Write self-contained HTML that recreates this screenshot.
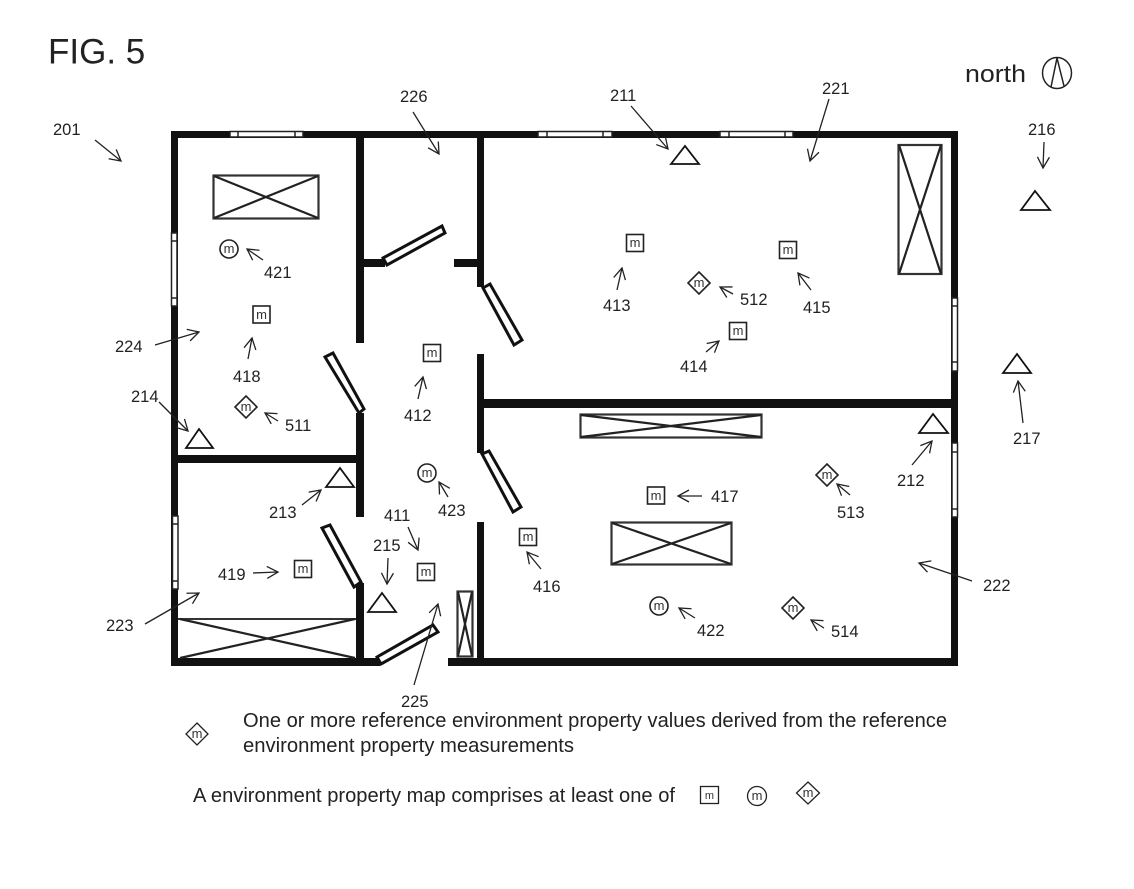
<!DOCTYPE html>
<html>
<head>
<meta charset="utf-8">
<style>
html,body{margin:0;padding:0;background:#fff;}
svg{display:block;}
text{font-family:"Liberation Sans",sans-serif;fill:#222;}
.n{font-size:16.5px;}
.m{font-size:13px;text-anchor:middle;fill:#333;}
.w{fill:#111;stroke:none;}
.win{fill:#fff;stroke:#222;stroke-width:1.5;}
.door{fill:#fff;stroke:#111;stroke-width:3;}
.bed{fill:#fff;stroke:#333;stroke-width:2.2;}
.x{stroke:#222;stroke-width:2.2;fill:none;}
.tri{fill:#fff;stroke:#111;stroke-width:1.8;}
.s{fill:#fff;stroke:#222;stroke-width:1.6;}
.a{stroke:#222;stroke-width:1.3;fill:none;marker-end:url(#ah);}
</style>
</head>
<body>
<svg width="1134" height="889" viewBox="0 0 1134 889" xmlns="http://www.w3.org/2000/svg">
<defs>
<marker id="ah" markerUnits="userSpaceOnUse" markerWidth="16" markerHeight="16" refX="12" refY="8" orient="auto">
<path d="M1,2 L12,8 L1,14" fill="none" stroke="#222" stroke-width="1.3"/>
</marker>
</defs>
<rect width="1134" height="889" fill="#fff"/>

<!-- walls -->
<rect class="w" x="171" y="131" width="787" height="7"/>
<rect class="w" x="171" y="131" width="7" height="535"/>
<rect class="w" x="951" y="131" width="7" height="535"/>
<rect class="w" x="171" y="658" width="209" height="8"/>
<rect class="w" x="448" y="658" width="510" height="8"/>
<rect class="w" x="356" y="138" width="8" height="205"/>
<rect class="w" x="356" y="413" width="8" height="104"/>
<rect class="w" x="356" y="583" width="8" height="75"/>
<rect class="w" x="477" y="138" width="7" height="149"/>
<rect class="w" x="477" y="354" width="7" height="99"/>
<rect class="w" x="477" y="522" width="7" height="136"/>
<rect class="w" x="364" y="259" width="21" height="8"/>
<rect class="w" x="454" y="259" width="23" height="8"/>
<rect class="w" x="178" y="455" width="178" height="8"/>
<rect class="w" x="484" y="399" width="467" height="9"/>

<!-- windows -->
<rect class="win" x="230" y="131.500" width="73" height="5.500"/><path class="win" d="M238,131.500V137M295,131.500V137"/>
<rect class="win" x="538" y="131.500" width="74" height="5.500"/><path class="win" d="M547,131.500V137M603,131.500V137"/>
<rect class="win" x="720" y="131.500" width="73" height="5.500"/><path class="win" d="M729,131.500V137M785,131.500V137"/>
<rect class="win" x="171.500" y="233" width="5.500" height="73"/><path class="win" d="M171.500,241H177M171.500,298H177"/>
<rect class="win" x="172.500" y="516" width="5.500" height="73"/><path class="win" d="M172.500,524H178M172.500,581H178"/>
<rect class="win" x="952" y="298" width="5.500" height="73"/><path class="win" d="M952,306H957.500M952,362H957.500"/>
<rect class="win" x="952" y="443" width="5.500" height="74"/><path class="win" d="M952,452H957.500M952,509H957.500"/>

<!-- doors -->
<polygon class="door" points="383,258 442,226 445,233 387,265"/>
<polygon class="door" points="325,357 333,353 364,409 359,413"/>
<polygon class="door" points="483,288 490,284 522,340 514,345"/>
<polygon class="door" points="482,454 489,451 521,507 513,512"/>
<polygon class="door" points="322,528 330,525 361,582 354,587"/>
<polygon class="door" points="377,657 433,625 438,632 381,664"/>

<!-- furniture -->
<rect class="bed" x="213.500" y="175.500" width="105" height="43"/><path class="x" d="M214,176L318,218M318,176L214,218"/>
<rect class="bed" x="898.500" y="145" width="43" height="129"/><path class="x" d="M899,145L941,274M941,145L899,274"/>
<rect class="bed" x="580.500" y="414.500" width="181" height="23"/><path class="x" d="M581,415L761,437M761,415L581,437"/>
<rect class="bed" x="611.500" y="522.500" width="120" height="42"/><path class="x" d="M612,523L731,564M731,523L612,564"/>
<path d="M178,619H356" stroke="#333" stroke-width="2" fill="none"/><path class="x" d="M180,619L355,658M355,619L180,658"/>
<rect class="bed" x="457.500" y="591.500" width="15" height="65"/><path class="x" d="M458,592L472,656M472,592L458,656"/>

<!-- triangles -->
<polygon class="tri" points="671,164 685,146 699,164"/>
<polygon class="tri" points="1021,210 1035,191 1050,210"/>
<polygon class="tri" points="1003,373 1017,354 1031,373"/>
<polygon class="tri" points="919,433 933,414 948,433"/>
<polygon class="tri" points="186,448 199,429 213,448"/>
<polygon class="tri" points="326,487 340,468 354,487"/>
<polygon class="tri" points="368,612 382,593 396,612"/>

<!-- square sensors -->
<rect class="s" x="253" y="306" width="17" height="17"/><text class="m" x="261.500" y="319">m</text>
<rect class="s" x="423.500" y="344.500" width="17" height="17"/><text class="m" x="432" y="357">m</text>
<rect class="s" x="417.500" y="563.500" width="17" height="17"/><text class="m" x="426" y="576">m</text>
<rect class="s" x="294.500" y="560.500" width="17" height="17"/><text class="m" x="303" y="573">m</text>
<rect class="s" x="626.500" y="234.500" width="17" height="17"/><text class="m" x="635" y="247">m</text>
<rect class="s" x="779.500" y="241.500" width="17" height="17"/><text class="m" x="788" y="254">m</text>
<rect class="s" x="729.500" y="322.500" width="17" height="17"/><text class="m" x="738" y="335">m</text>
<rect class="s" x="647.500" y="487" width="17" height="17"/><text class="m" x="656" y="500">m</text>
<rect class="s" x="519.500" y="528.500" width="17" height="17"/><text class="m" x="528" y="541">m</text>

<!-- circle sensors -->
<circle class="s" cx="229" cy="249" r="9"/><text class="m" x="229" y="253">m</text>
<circle class="s" cx="427" cy="473" r="9"/><text class="m" x="427" y="477">m</text>
<circle class="s" cx="659" cy="606" r="9"/><text class="m" x="659" y="610">m</text>

<!-- diamond sensors -->
<polygon class="s" points="246,396 257,407 246,418 235,407"/><text class="m" x="246" y="411">m</text>
<polygon class="s" points="699,272 710,283 699,294 688,283"/><text class="m" x="699" y="287">m</text>
<polygon class="s" points="827,464 838,475 827,486 816,475"/><text class="m" x="827" y="479">m</text>
<polygon class="s" points="793,597 804,608 793,619 782,608"/><text class="m" x="793" y="612">m</text>

<!-- arrows -->
<path class="a" d="M95,140L121,161"/>
<path class="a" d="M413,112L439,154"/>
<path class="a" d="M631,106L668,149"/>
<path class="a" d="M829,99L810,161"/>
<path class="a" d="M1044,142L1043,168"/>
<path class="a" d="M1023,423L1018,381"/>
<path class="a" d="M912,465L932,441"/>
<path class="a" d="M155,345L199,332"/>
<path class="a" d="M159,402L188,431"/>
<path class="a" d="M263,260L247,249"/>
<path class="a" d="M248,359L252,338"/>
<path class="a" d="M278,421L265,413"/>
<path class="a" d="M418,399L423,377"/>
<path class="a" d="M448,497L439,482"/>
<path class="a" d="M408,527L418,550"/>
<path class="a" d="M388,558L387,584"/>
<path class="a" d="M302,505L321,490"/>
<path class="a" d="M253,573L278,572"/>
<path class="a" d="M145,624L199,593"/>
<path class="a" d="M414,685L438,604"/>
<path class="a" d="M617,290L622,268"/>
<path class="a" d="M811,290L798,273"/>
<path class="a" d="M733,294L720,287"/>
<path class="a" d="M706,352L719,341"/>
<path class="a" d="M702,496L678,496"/>
<path class="a" d="M541,569L527,552"/>
<path class="a" d="M695,618L679,608"/>
<path class="a" d="M850,495L837,484"/>
<path class="a" d="M824,628L811,620"/>
<path class="a" d="M972,581L919,563"/>

<!-- labels -->
<text class="n" x="264" y="278">421</text>
<text class="n" x="233" y="382">418</text>
<text class="n" x="404" y="421">412</text>
<text class="n" x="285" y="431">511</text>
<text class="n" x="269" y="518">213</text>
<text class="n" x="438" y="516">423</text>
<text class="n" x="384" y="521">411</text>
<text class="n" x="373" y="551">215</text>
<text class="n" x="218" y="580">419</text>
<text class="n" x="401" y="707">225</text>
<text class="n" x="400" y="102">226</text>
<text class="n" x="610" y="101">211</text>
<text class="n" x="822" y="94">221</text>
<text class="n" x="53" y="135">201</text>
<text class="n" x="1028" y="135">216</text>
<text class="n" x="1013" y="444">217</text>
<text class="n" x="897" y="486">212</text>
<text class="n" x="603" y="311">413</text>
<text class="n" x="740" y="305">512</text>
<text class="n" x="680" y="372">414</text>
<text class="n" x="803" y="313">415</text>
<text class="n" x="711" y="502">417</text>
<text class="n" x="837" y="518">513</text>
<text class="n" x="533" y="592">416</text>
<text class="n" x="697" y="636">422</text>
<text class="n" x="831" y="637">514</text>
<text class="n" x="115" y="352">224</text>
<text class="n" x="131" y="402">214</text>
<text class="n" x="106" y="631">223</text>
<text class="n" x="983" y="591">222</text>

<!-- title and north -->
<text x="48" y="63.500" font-size="35" style="fill:#222">FIG. 5</text>
<text x="965" y="82" font-size="24" textLength="61" lengthAdjust="spacingAndGlyphs">north</text>
<ellipse cx="1057" cy="73" rx="14.500" ry="15.500" fill="none" stroke="#222" stroke-width="1.500"/>
<path d="M1051,87L1057,58L1064,86" fill="none" stroke="#222" stroke-width="1.500"/>

<!-- legend -->
<polygon class="s" points="197,723 208,734 197,745 186,734" style="stroke-width:1.300"/><text class="m" x="197" y="738">m</text>
<text x="243" y="727" font-size="20" textLength="704" lengthAdjust="spacingAndGlyphs">One or more reference environment property values derived from the reference</text>
<text x="243" y="752" font-size="20" textLength="331" lengthAdjust="spacingAndGlyphs">environment property measurements</text>
<text x="193" y="802" font-size="20" textLength="482" lengthAdjust="spacingAndGlyphs">A environment property map comprises at least one of</text>
<rect class="s" x="700.500" y="786.500" width="18" height="17" style="stroke-width:1.300"/><text class="m" x="709.500" y="799" style="font-size:11px">m</text>
<circle class="s" cx="757" cy="796" r="9.500" style="stroke-width:1.300"/><text class="m" x="757" y="800">m</text>
<polygon class="s" points="808,782 819.500,793 808,804 796.500,793" style="stroke-width:1.300"/><text class="m" x="808" y="797">m</text>
</svg>
</body>
</html>
